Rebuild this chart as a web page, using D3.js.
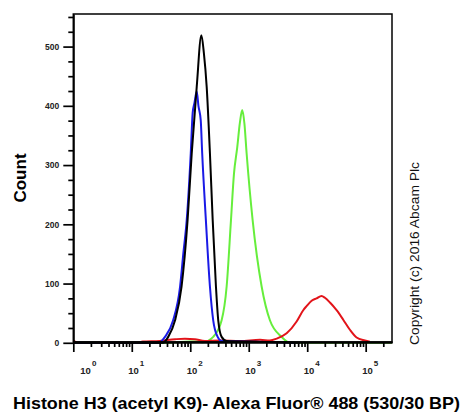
<!DOCTYPE html>
<html>
<head>
<meta charset="utf-8">
<script src="https://cdn.jsdelivr.net/npm/d3@7"></script>
<style>
  body { margin: 0; background: #fff; }
  svg { display: block; font-family: "Liberation Sans", Arial, sans-serif; }
</style>
</head>
<body>
<svg id="main_chart" width="463" height="414"></svg>
<script>
// x values = fluorescence intensity, y values = count
const blackCurve = [[1,0],[34,0],[42,10],[55,38],[71,95],[90,207],[106,320],[129,432],[155,519],
  [171,489],[191,432],[217,320],[242,207],[275,95],[301,38],[344,10],[419,3],[1050,2],[3400,1],[7500,0]];
const blueCurve = [[1,0],[28,0],[37,10],[51,38],[67,95],[76,150],[87,207],[102,320],[110,388],
  [118,405],[129,424],[138,400],[151,376],[160,320],[185,207],[217,95],[247,38],[294,10],[344,3],[3400,1],[6000,0]];
const greenCurve = [[1,0],[40,0],[60,1],[100,2],[140,2],[165,1],[247,10],[344,38],[419,95],[497,207],
  [559,285],[636,330],[707,372],[774,393],[844,370],[920,320],[1166,207],[1662,95],[2303,38],[3650,10],[5060,0],[280000,0]];
const redCurve = [[1,4],[1.2,0],[12,0],[15.5,2],[30,3],[55,6],[81,7],[120,6],[178,3],[322,4],[708,3],
  [1560,5],[2300,4],[3000,7],[4450,16],[6590,36],[8550,55],[9770,62],[11900,71],[14500,75],[17600,79],
  [20100,76],[24500,68],[31800,55],[41300,39],[53700,22],[69900,9],[96900,4],[118000,2]];

const xMajor = [1, 10, 100, 1000, 10000, 100000];
const xExponents = ["0", "1", "2", "3", "4", "5"];
const yMajor = [0, 100, 200, 300, 400, 500];
const yMinor = d3.range(25, 551, 25).filter(v => v % 100 !== 0);

const xMinor = [];
[1, 10, 100, 1000, 10000, 100000].forEach(dec => {
  for (let k = 2; k <= 9; k++) if (dec * k < 2.8e5) xMinor.push(dec * k);
});

let svg = d3.select("#main_chart");

let xScale = d3.scaleLog()
  .domain([1, Math.pow(10, 5.45)])
  .range([73.3, 392]);

let yScale = d3.scaleLinear()
  .domain([0, 555])
  .range([342.8, 14]);

let line = d3.line()
  .x(d => xScale(d[0]))
  .y(d => yScale(d[1]))
  .curve(d3.curveMonotoneX);

let plot = svg.append("g");
[[greenCurve, "#66ee3c"], [redCurve, "#e2141a"], [blueCurve, "#1a1ae6"], [blackCurve, "#000"]]
  .forEach(([d, c]) => {
    plot.append("path")
      .datum(d)
      .attr("fill", "none")
      .attr("stroke", c)
      .attr("stroke-width", 2)
      .attr("stroke-linejoin", "round")
      .attr("d", line);
  });

// frame
svg.append("rect")
  .attr("x", 73.3).attr("y", 14)
  .attr("width", 392 - 73.3).attr("height", 342 - 14)
  .attr("fill", "none").attr("stroke", "#000").attr("stroke-width", 1.5);

// y axis
let yAxisG = svg.append("g").attr("transform", "translate(73.3,0)");
yAxisG.call(d3.axisLeft(yScale).tickValues(yMinor).tickSize(5).tickSizeOuter(0).tickFormat(""));
yAxisG.append("g").call(d3.axisLeft(yScale).tickValues(yMajor).tickSize(10).tickSizeOuter(0).tickPadding(4)
  .tickFormat(d3.format("d")));
yAxisG.selectAll("line").attr("stroke-width", 1.7);
yAxisG.selectAll(".domain").attr("stroke-width", 1.5);
yAxisG.selectAll("text")
  .attr("font-size", 8.5).attr("font-weight", "bold").attr("fill", "#222")
  .attr("font-family", "Liberation Sans, Arial, sans-serif");

// x axis
let xAxisG = svg.append("g").attr("transform", "translate(0,342)");
xAxisG.call(d3.axisBottom(xScale).tickValues(xMinor).tickSize(5).tickSizeOuter(0).tickFormat(""));
xAxisG.append("g").call(d3.axisBottom(xScale).tickValues(xMajor).tickSize(10).tickSizeOuter(0).tickFormat(""));
xAxisG.selectAll("line").attr("stroke-width", 1.7);
xAxisG.selectAll(".domain").attr("stroke-width", 1.8);

xMajor.forEach((v, i) => {
  let t = svg.append("text")
    .attr("x", xScale(v) + (i === 0 ? 7 : -3.5))
    .attr("y", 373.5)
    .attr("font-size", 9.5)
    .attr("font-weight", "bold")
    .attr("fill", "#222")
    .text("10");
  t.append("tspan")
    .attr("dx", 1)
    .attr("dy", -7.5)
    .attr("font-size", 8)
    .text(xExponents[i]);
});

// titles
svg.append("text")
  .attr("transform", "translate(26,178) rotate(-90)")
  .attr("text-anchor", "middle")
  .attr("font-size", 17)
  .attr("font-weight", "bold")
  .text("Count");

svg.append("text")
  .attr("x", 13).attr("y", 408.5)
  .attr("font-size", 17)
  .attr("font-weight", "bold")
  .attr("textLength", 447)
  .attr("lengthAdjust", "spacingAndGlyphs")
  .text("Histone H3 (acetyl K9)- Alexa Fluor® 488 (530/30 BP)");

svg.append("text")
  .attr("transform", "translate(418.5,253.5) rotate(-90)")
  .attr("text-anchor", "middle")
  .attr("font-size", 13.5)
  .attr("fill", "#111")
  .attr("textLength", 183)
  .attr("lengthAdjust", "spacingAndGlyphs")
  .text("Copyright (c) 2016 Abcam Plc");
</script>
</body>
</html>
